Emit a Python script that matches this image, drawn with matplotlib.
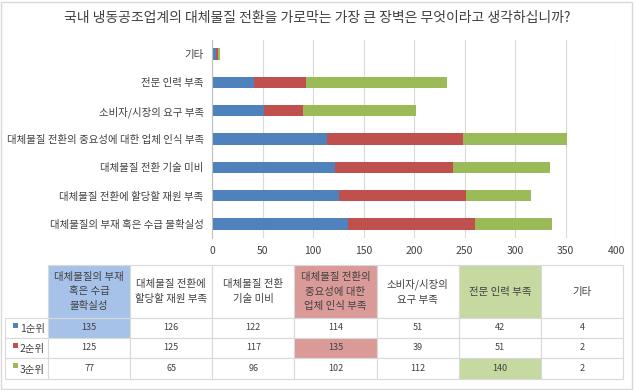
import matplotlib
matplotlib.use("Agg")
import matplotlib.pyplot as plt
from matplotlib.patches import Rectangle

plt.rcParams['font.family'] = ['Noto Sans CJK KR', 'DejaVu Sans']

title = "국내 냉동공조업계의 대체물질 전환을 가로막는 가장 큰 장벽은 무엇이라고 생각하십니까?"
categories = ["대체물질의 부재 혹은 수급 불확실성", "대체물질 전환에 할당할 재원 부족",
              "대체물질 전환 기술 미비", "대체물질 전환의 중요성에 대한 업체 인식 부족",
              "소비자/시장의 요구 부족", "전문 인력 부족", "기타"]
table_headers = ["대체물질의 부재\n혹은 수급\n불확실성", "대체물질 전환에\n할당할 재원 부족",
                 "대체물질 전환\n기술 미비", "대체물질 전환의\n중요성에 대한\n업체 인식 부족",
                 "소비자/시장의\n요구 부족", "전문 인력 부족", "기타"]
series_names = ["1순위", "2순위", "3순위"]
rank1 = [135, 126, 122, 114, 51, 42, 4]
rank2 = [125, 125, 117, 135, 39, 51, 2]
rank3 = [77, 65, 96, 102, 112, 140, 2]
series = [rank1, rank2, rank3]
colors = ["#4f81bd", "#c0504d", "#9bbb59"]
light = ["#a6c2e8", "#da9a98", "#c6d9a0"]

W, H = 634, 390
fig = plt.figure(figsize=(W / 100, H / 100), dpi=100)
fig.patches.append(Rectangle((1 / W, 1 / H), 1 - 3 / W, 1 - 3 / H, transform=fig.transFigure,
                             fill=False, edgecolor="#d9d9d9", lw=1))

fig.text(317 / W, 1 - 18 / H, title, ha="center", va="center", fontsize=10, color="#404040")

# bar chart
ax = fig.add_axes([212 / W, 1 - 238 / H, (616 - 212) / W, (238 - 40) / H])
y = list(range(len(categories)))
left = [0] * len(categories)
for vals, c in zip(series, colors):
    ax.barh(y, vals, left=left, height=0.4, color=c, edgecolor="none", zorder=2)
    left = [l + v for l, v in zip(left, vals)]
ax.set_xlim(0, 400)
ax.set_ylim(-0.5, len(categories) - 0.5)
ax.set_xticks(range(0, 401, 50))
ax.set_yticks(y)
ax.set_yticklabels(categories, fontsize=7.5, color="#404040")
ax.tick_params(axis="x", labelsize=7.5, colors="#404040", length=0, pad=6)
ax.tick_params(axis="y", length=0, pad=6)
ax.grid(axis="x", color="#d9d9d9", lw=0.8, zorder=0)
for s in ["top", "right", "bottom"]:
    ax.spines[s].set_visible(False)
ax.spines["left"].set_color("#bfbfbf")

# data table
tab = fig.add_axes([0, 0, 1, 1])
tab.set_xlim(0, W)
tab.set_ylim(H, 0)
tab.axis("off")
line_c = "#d9d9d9"
x0, xl = 5, 48
col_w = (623 - xl) / len(categories)
y_head, y_rows = 265, [318, 338, 358, 379]
hl_col = {0: 0, 1: 3, 2: 5}

for j, hdr in enumerate(table_headers):
    cx = xl + j * col_w
    fc = "white"
    for r, col in hl_col.items():
        if col == j:
            fc = light[r]
    tab.add_patch(Rectangle((cx, y_head), col_w, y_rows[0] - y_head, facecolor=fc,
                            edgecolor=line_c, lw=0.8))
    tab.text(cx + col_w / 2, (y_head + y_rows[0]) / 2, hdr, ha="center", va="center",
             fontsize=7.5, color="#404040", linespacing=1.6)

for r, (name, vals) in enumerate(zip(series_names, series)):
    top, bot = y_rows[r], y_rows[r + 1]
    tab.add_patch(Rectangle((x0, top), xl - x0, bot - top, facecolor="white",
                            edgecolor=line_c, lw=0.8))
    tab.add_patch(Rectangle((x0 + 8, top + 5), 5, 5, facecolor=colors[r], edgecolor="none"))
    tab.text(x0 + 15, (top + bot) / 2 + 1, name, ha="left", va="center", fontsize=7.5, color="#404040")
    for j, v in enumerate(vals):
        cx = xl + j * col_w
        fc = light[r] if hl_col[r] == j else "white"
        tab.add_patch(Rectangle((cx, top), col_w, bot - top, facecolor=fc,
                                edgecolor=line_c, lw=0.8))
        tab.text(cx + col_w / 2, (top + bot) / 2, str(v), ha="center", va="center",
                 fontsize=6.5, color="#404040")

fig.savefig("out.png", dpi=100)
